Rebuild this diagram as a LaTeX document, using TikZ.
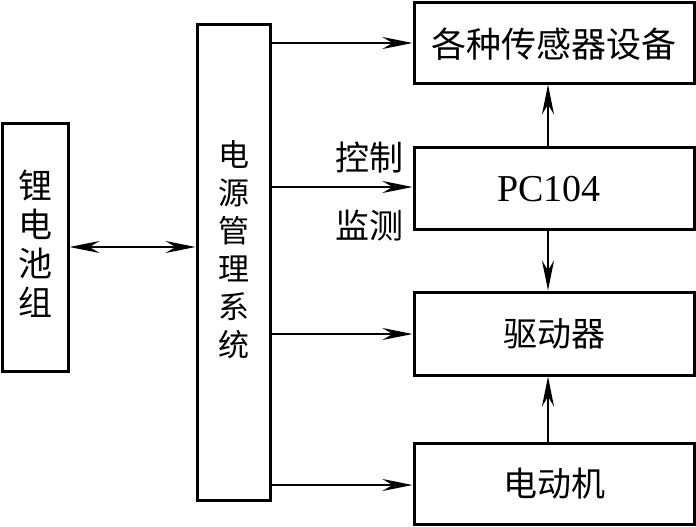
\documentclass[tikz,border=0pt]{standalone}
\usepackage{fontspec}
\setmainfont{Liberation Serif}
\newfontfamily\cjk{Noto Sans CJK SC}
\usetikzlibrary{arrows.meta}
\begin{document}
\begin{tikzpicture}[x=1pt,y=-1pt,
  blk/.style={draw,line width=3pt,inner sep=0pt},
  conn/.style={line width=1.8pt,-{Stealth[length=30pt,width=12pt,inset=10pt]}},
  dconn/.style={line width=1.8pt,{Stealth[length=30pt,width=12pt,inset=10pt]}-{Stealth[length=30pt,width=12pt,inset=10pt]}},
  lbl/.style={font=\cjk\fontsize{34}{39}\selectfont}]
\useasboundingbox (0,0) rectangle (696,527);
\node[blk,minimum width=66pt,minimum height=248pt] (bat) at (35,247) {};
\node[lbl,align=center] (battxt) at (35,243.5) {锂\\电\\池\\组};
\node[blk,minimum width=73pt,minimum height=475pt] (pms) at (233.5,262.5) {};
\node[lbl,align=center,font=\cjk\fontsize{31}{38}\selectfont] (pmstxt) at (233.5,250) {电\\源\\管\\理\\系\\统};
\node[blk,minimum width=280pt,minimum height=80pt] (sen) at (554,43) {};
\node[lbl,font=\cjk\fontsize{35}{38}\selectfont] at (554,44) {各种传感器设备};
\node[blk,minimum width=280pt,minimum height=82pt] (pc) at (554,188) {};
\node[font=\fontsize{38}{40}\selectfont] at (549,189) {PC104};
\node[blk,minimum width=280pt,minimum height=83pt] (drv) at (554,333.5) {};
\node[lbl] at (554,334) {驱动器};
\node[blk,minimum width=280pt,minimum height=81pt] (mot) at (554,483.5) {};
\node[lbl] at (554,484) {电动机};
\node[lbl] (ctl) at (369,158) {控制};
\node[lbl] (mon) at (369,226) {监测};
\draw[dconn] (bat.east |- 0,247) -- (pms.west |- 0,247);
\draw[conn] (pms.east |- 0,43) -- (sen.west |- 0,43);
\draw[conn] (pms.east |- 0,187) -- (pc.west |- 0,187);
\draw[conn] (pms.east |- 0,334) -- (drv.west |- 0,334);
\draw[conn] (pms.east |- 0,485) -- (mot.west |- 0,485);
\draw[conn] (pc.north -| 548,0) -- (sen.south -| 548,0);
\draw[conn] (pc.south -| 548,0) -- (drv.north -| 548,0);
\draw[conn] (mot.north -| 548,0) -- (drv.south -| 548,0);
\end{tikzpicture}
\end{document}
